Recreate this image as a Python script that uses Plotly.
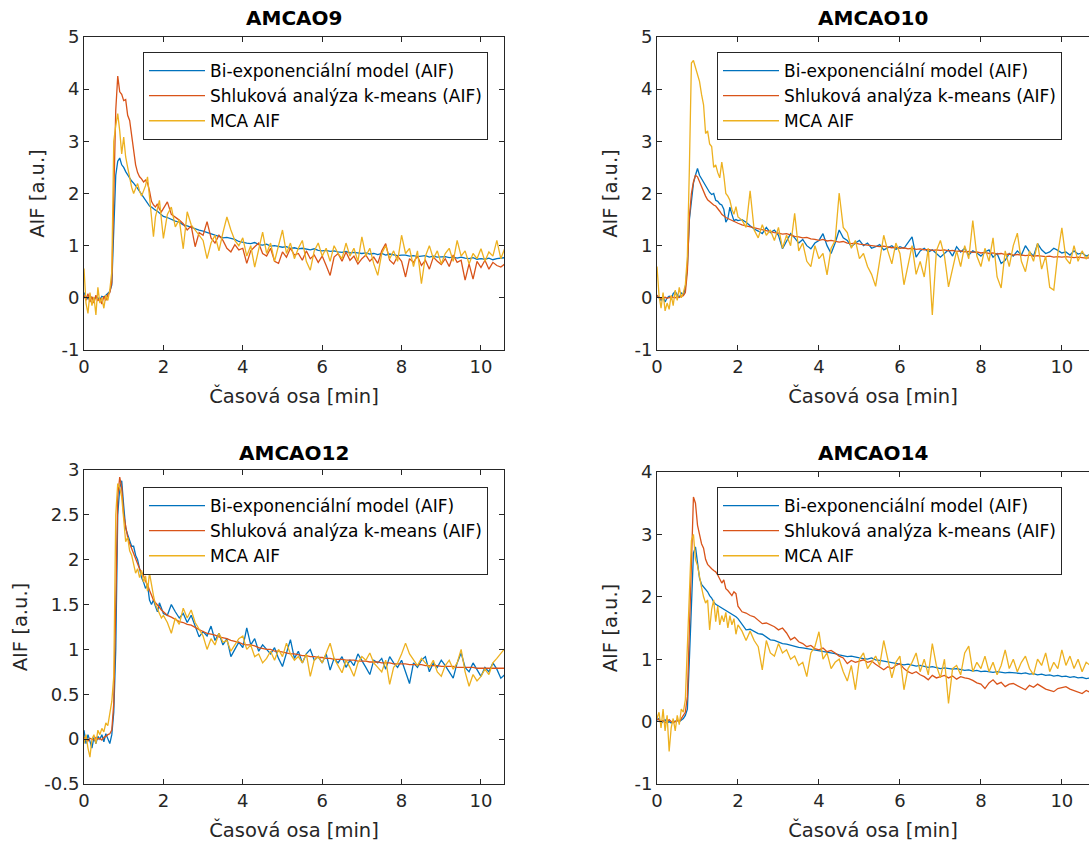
import plotly.graph_objects as go

# ---- sampling times [min]: dense through the bolus, 0.1 min afterwards ----
T_RISE = [0.00, 0.05, 0.10, 0.15, 0.20, 0.25, 0.30, 0.35, 0.40, 0.45,
          0.50, 0.55, 0.60, 0.65, 0.70, 0.75, 0.80, 0.85, 0.90, 0.95,
          1.00, 1.05, 1.10, 1.15, 1.20, 1.25, 1.30, 1.35, 1.40, 1.45,
          1.50, 1.55, 1.60, 1.65, 1.70, 1.75, 1.80, 1.85, 1.90, 1.95,
          2.00]
T_TAIL = [2.1, 2.2, 2.3, 2.4, 2.5, 2.6, 2.7, 2.8, 2.9, 3.0,
          3.1, 3.2, 3.3, 3.4, 3.5, 3.6, 3.7, 3.8, 3.9, 4.0,
          4.1, 4.2, 4.3, 4.4, 4.5, 4.6, 4.7, 4.8, 4.9, 5.0,
          5.1, 5.2, 5.3, 5.4, 5.5, 5.6, 5.7, 5.8, 5.9, 6.0,
          6.1, 6.2, 6.3, 6.4, 6.5, 6.6, 6.7, 6.8, 6.9, 7.0,
          7.1, 7.2, 7.3, 7.4, 7.5, 7.6, 7.7, 7.8, 7.9, 8.0,
          8.1, 8.2, 8.3, 8.4, 8.5, 8.6, 8.7, 8.8, 8.9, 9.0,
          9.1, 9.2, 9.3, 9.4, 9.5, 9.6, 9.7, 9.8, 9.9, 10.0,
          10.1, 10.2, 10.3, 10.4, 10.5, 10.6, 10.7]

SERIES_NAMES = ["Bi-exponenciální model (AIF)",
                "Shluková analýza k-means (AIF)",
                "MCA AIF"]
PANEL_TITLES = ["AMCAO9", "AMCAO10", "AMCAO12", "AMCAO14"]

# ---- AMCAO9 ----
AMCAO9_BIEXP = [
    0.10, 0.02, -0.02, 0.03, 0.00, -0.03, 0.02, 0.00, -0.04, 0.03,
    0.01, 0.05, 0.08, 0.12, 0.25, 1.30, 2.35, 2.62, 2.68, 2.55,
    2.50, 2.42, 2.36, 2.28, 2.24, 2.20, 2.16, 2.10, 2.04, 1.98,
    1.92, 1.86, 1.80, 1.76, 1.74, 1.70, 1.68, 1.66, 1.62, 1.58,
    1.56,
    1.54, 1.50, 1.47, 1.45, 1.40, 1.38, 1.35, 1.33, 1.30, 1.28,
    1.25, 1.22, 1.20, 1.18, 1.15, 1.16, 1.14, 1.12, 1.08, 1.06,
    1.05, 1.04, 1.06, 1.02, 1.01, 1.03, 0.99, 1.00, 0.98, 0.97,
    0.98, 0.95, 0.96, 0.94, 0.95, 0.93, 0.92, 0.94, 0.91, 0.90,
    0.91, 0.89, 0.90, 0.88, 0.87, 0.89, 0.86, 0.87, 0.86, 0.85,
    0.86, 0.84, 0.85, 0.83, 0.85, 0.82, 0.84, 0.83, 0.81, 0.82,
    0.82, 0.80, 0.81, 0.79, 0.80, 0.81, 0.78, 0.80, 0.78, 0.78,
    0.79, 0.77, 0.78, 0.76, 0.78, 0.76, 0.75, 0.77, 0.74, 0.75,
    0.74, 0.76, 0.73, 0.75, 0.76, 0.77, 0.75]
AMCAO9_KMEANS = [
    0.05, -0.05, 0.08, -0.08, 0.02, -0.10, 0.05, -0.06, 0.00, -0.12,
    0.03, -0.05, 0.06, 0.10, 0.30, 2.20, 3.60, 4.25, 3.95, 3.90,
    3.78, 3.80, 3.50, 3.40, 3.10, 2.88, 2.55, 2.40, 2.32, 2.28,
    2.22, 2.26, 2.20, 2.05, 1.85, 1.78, 1.74, 1.80, 1.70, 1.65,
    1.72,
    1.84, 1.60, 1.55, 1.49, 1.42, 1.30, 1.38, 0.98, 1.25, 1.20,
    1.46, 1.15, 1.05, 1.20, 1.10, 0.95, 0.88, 1.02, 0.92, 0.95,
    0.66, 0.90, 0.98, 1.05, 0.85, 0.80, 0.95, 0.70, 0.66, 0.88,
    0.78, 0.95, 0.82, 0.85, 0.72, 0.90, 0.75, 0.82, 0.68, 0.80,
    0.62, 0.43, 0.78, 0.85, 0.70, 0.88, 0.72, 0.80, 0.65, 0.75,
    0.82, 0.70, 0.78, 0.66, 0.90, 1.04, 0.72, 0.65, 0.80, 0.70,
    0.40, 0.75, 0.68, 0.80, 0.62, 0.72, 0.55, 0.78, 0.70, 0.64,
    0.75, 0.60, 0.82, 0.68, 0.72, 0.34, 0.65, 0.36, 0.70, 0.58,
    0.72, 0.55, 0.68, 0.62, 0.59, 0.65, 0.60]
AMCAO9_MCA = [
    0.56, -0.10, -0.30, 0.10, -0.15, 0.02, -0.33, 0.20, -0.10, 0.00,
    -0.20, 0.05, -0.05, 0.15, 0.50, 3.00, 3.30, 3.53, 3.20, 2.76,
    3.08, 2.70, 2.50, 2.30, 2.12, 2.00, 2.08, 2.19, 2.05, 1.95,
    2.05, 2.15, 2.32, 1.90, 1.45, 1.17, 1.55, 1.70, 1.87, 1.50,
    1.14,
    1.60, 1.74, 1.36, 1.50, 0.94, 1.65, 1.40, 1.30, 1.20, 1.10,
    0.75, 1.05, 1.20, 0.90, 1.25, 1.55, 1.30, 1.10, 1.00, 1.15,
    0.80, 1.00, 0.59, 0.95, 1.26, 0.85, 1.05, 0.70, 1.00, 1.30,
    0.85, 1.05, 0.75, 0.95, 1.10, 0.70, 0.53, 0.90, 1.05, 0.80,
    0.95, 0.70, 1.00, 0.85, 0.75, 1.05, 0.80, 0.95, 0.70, 1.17,
    0.80, 0.95, 0.65, 0.43, 0.85, 1.00, 0.75, 0.90, 0.70, 1.20,
    0.85, 0.95, 0.60, 0.90, 0.27, 0.80, 1.00, 0.75, 0.90, 0.65,
    0.85, 0.95, 0.70, 1.10, 0.80, 0.90, 0.65, 0.85, 0.75, 0.94,
    0.70, 0.88, 0.80, 1.10, 0.75, 0.95, 0.85]

# ---- AMCAO10 ----
AMCAO10_BIEXP = [
    0.05, 0.00, -0.05, 0.02, -0.08, 0.00, 0.03, -0.03, 0.08, 0.12,
    0.05, 0.00, 0.10, 0.05, 0.20, 0.60, 1.50, 1.85, 2.20, 2.35,
    2.48, 2.35, 2.28, 2.20, 2.13, 2.08, 2.02, 1.98, 2.00, 1.87,
    1.85, 1.80, 1.78, 1.70, 1.45, 1.52, 1.74, 1.60, 1.48, 1.50,
    1.48,
    1.50, 1.45, 1.38, 1.32, 1.28, 1.23, 1.35, 1.25, 1.30, 1.20,
    0.94, 1.10, 1.23, 1.15, 1.05, 1.12, 1.00, 0.94, 1.05, 1.10,
    1.23, 1.00, 0.85, 1.05, 1.30, 1.15, 1.10, 0.98, 1.05, 1.10,
    1.00, 1.05, 0.95, 0.98, 1.02, 0.92, 0.96, 1.00, 0.93, 0.98,
    0.95, 1.05, 1.17, 0.78, 0.90, 0.95, 0.88, 0.92, 0.85, 0.78,
    0.85, 0.92, 0.80, 0.98, 0.88, 0.95, 0.82, 0.90, 0.86, 0.80,
    0.88, 0.92, 0.78, 0.85, 0.66, 0.72, 0.85, 0.80, 0.90, 0.82,
    1.00, 0.88, 0.80, 1.04, 0.92, 0.85, 0.88, 0.95, 0.91, 0.86,
    0.88, 0.82, 0.90, 0.84, 0.86, 0.80, 0.83]
AMCAO10_KMEANS = [
    0.05, 0.00, -0.02, 0.00, 0.01, -0.01, 0.00, 0.02, 0.01, 0.00,
    0.02, 0.01, 0.03, 0.04, 0.10, 0.50, 1.55, 2.00, 2.22, 2.35,
    2.32, 2.22, 2.12, 2.02, 1.95, 1.88, 1.84, 1.80, 1.78, 1.76,
    1.72, 1.66, 1.60, 1.56, 1.54, 1.52, 1.50, 1.48, 1.46, 1.45,
    1.43,
    1.40, 1.38, 1.37, 1.34, 1.33, 1.30, 1.29, 1.27, 1.25, 1.24,
    1.22, 1.23, 1.20, 1.18, 1.17, 1.15, 1.16, 1.13, 1.12, 1.10,
    1.12, 1.09, 1.10, 1.08, 1.07, 1.08, 1.05, 1.04, 1.05, 1.03,
    1.02, 1.01, 1.00, 0.99, 0.98, 0.99, 0.97, 0.96, 0.97, 0.95,
    0.96, 0.94, 0.95, 0.93, 0.94, 0.92, 0.93, 0.91, 0.92, 0.91,
    0.92, 0.90, 0.91, 0.89, 0.90, 0.88, 0.89, 0.87, 0.88, 0.86,
    0.87, 0.85, 0.86, 0.84, 0.85, 0.83, 0.84, 0.82, 0.83, 0.82,
    0.81, 0.82, 0.80, 0.81, 0.80, 0.79, 0.80, 0.78, 0.79, 0.78,
    0.79, 0.78, 0.77, 0.78, 0.77, 0.76, 0.77]
AMCAO10_MCA = [
    0.60, 0.05, -0.20, 0.10, -0.25, -0.10, -0.22, 0.05, -0.15, 0.15,
    -0.05, 0.20, 0.00, 0.10, 0.25, 0.80, 2.50, 4.50, 4.55, 4.40,
    4.30, 4.15, 3.90, 3.70, 3.15, 3.20, 2.95, 2.90, 2.50, 2.55,
    2.40, 2.30, 2.60, 2.35, 2.00, 1.95, 1.87, 1.70, 1.60, 1.75,
    1.55,
    1.49, 1.35, 2.05, 1.30, 1.15, 1.40, 1.20, 1.30, 1.10, 1.35,
    0.95, 1.20, 1.00, 1.62, 0.90, 1.05, 0.70, 0.60, 1.00, 0.75,
    0.85, 0.44, 0.95, 1.10, 2.01, 1.35, 1.25, 0.95, 1.10, 0.75,
    0.85, 0.60, 0.45, 0.22, 0.75, 1.20, 0.90, 0.65, 1.05, 0.85,
    0.25, 0.60, 1.00, 0.45, 0.70, 0.40, 0.95, -0.33, 0.90, 1.10,
    0.80, 0.21, 0.55, 0.90, 0.60, 1.00, 0.75, 1.48, 0.80, 0.60,
    0.95, 0.70, 1.15, 0.40, 0.19, 0.90, 0.60, 1.00, 1.24, 0.70,
    0.50, 0.90, 0.70, 1.05, 0.55, 0.80, 0.20, 0.15, 0.85, 1.34,
    0.75, 0.65, 1.00, 0.70, 0.90, 0.75, 0.85]

# ---- AMCAO12 ----
AMCAO12_BIEXP = [
    0.10, -0.05, 0.05, -0.02, -0.10, 0.02, -0.05, 0.03, 0.00, 0.05,
    -0.03, 0.06, 0.00, -0.05, 0.05, 0.30, 1.00, 2.50, 2.80, 2.88,
    2.60, 2.35, 2.28, 2.20, 2.15, 2.15, 2.05, 2.00, 1.88, 1.80,
    1.75, 1.68, 1.72, 1.55, 1.50, 1.55, 1.48, 1.42, 1.52, 1.45,
    1.40,
    1.38, 1.50, 1.42, 1.35, 1.40, 1.30, 1.38, 1.25, 1.14, 1.20,
    1.15, 1.26, 1.10, 1.18, 1.05, 1.12, 0.92, 1.00, 1.08, 1.02,
    1.24, 1.05, 1.12, 0.98, 1.05, 1.00, 0.95, 1.02, 0.90, 0.81,
    0.95, 1.11, 0.90, 0.98, 0.85, 0.95, 1.00, 0.88, 0.92, 0.85,
    0.95, 0.77, 0.90, 0.85, 0.92, 0.80, 0.88, 0.82, 0.95, 0.88,
    0.80, 0.72, 0.88, 0.85, 0.90, 0.78, 0.92, 0.85, 0.80, 0.88,
    0.75, 0.62, 0.85, 0.80, 0.88, 0.92, 0.75, 0.85, 0.80, 0.88,
    0.82, 0.75, 0.68, 0.85, 0.96, 0.80, 0.75, 0.85, 0.78, 0.70,
    0.80, 0.75, 0.85, 0.78, 0.68, 0.72, 0.70]
AMCAO12_KMEANS = [
    0.02, 0.00, -0.02, 0.01, 0.00, -0.01, 0.02, 0.00, 0.01, -0.01,
    0.02, 0.03, 0.05, 0.06, 0.10, 0.40, 1.50, 2.70, 2.92, 2.80,
    2.50, 2.35, 2.25, 2.18, 2.12, 2.06, 2.00, 1.95, 1.90, 1.86,
    1.82, 1.76, 1.72, 1.66, 1.60, 1.55, 1.52, 1.50, 1.47, 1.44,
    1.42,
    1.38, 1.36, 1.33, 1.31, 1.30, 1.28, 1.27, 1.24, 1.22, 1.20,
    1.18, 1.17, 1.16, 1.14, 1.13, 1.12, 1.10, 1.09, 1.08, 1.06,
    1.05, 1.05, 1.04, 1.02, 1.01, 1.00, 1.00, 0.98, 0.98, 0.97,
    0.96, 0.95, 0.95, 0.94, 0.93, 0.93, 0.92, 0.92, 0.91, 0.91,
    0.90, 0.90, 0.89, 0.89, 0.89, 0.88, 0.88, 0.88, 0.87, 0.87,
    0.87, 0.86, 0.86, 0.86, 0.85, 0.85, 0.85, 0.84, 0.84, 0.84,
    0.84, 0.83, 0.83, 0.83, 0.83, 0.82, 0.82, 0.82, 0.82, 0.81,
    0.81, 0.81, 0.81, 0.80, 0.80, 0.80, 0.80, 0.80, 0.79, 0.79,
    0.79, 0.79, 0.79, 0.79, 0.79, 0.79, 0.79]
AMCAO12_MCA = [
    -0.05, 0.05, -0.10, -0.20, 0.00, 0.05, -0.05, 0.10, 0.05, 0.12,
    0.08, 0.18, 0.15, 0.30, 0.42, 0.70, 2.50, 2.85, 2.80, 2.70,
    2.40, 2.20, 2.25, 2.10, 2.05, 1.95, 1.85, 1.90, 1.80, 1.88,
    1.75, 1.82, 1.65, 1.85, 1.70, 1.60, 1.50, 1.45, 1.40, 1.35,
    1.38,
    1.30, 1.18, 1.35, 1.28, 1.46, 1.35, 1.44, 1.30, 1.22, 1.15,
    1.00, 1.12, 1.05, 1.18, 1.08, 1.10, 0.98, 1.05, 1.12, 1.15,
    1.00, 1.05, 0.92, 0.95, 0.85, 0.90, 0.98, 0.88, 1.00, 0.92,
    1.07, 0.95, 0.88, 0.92, 0.85, 0.95, 0.70, 0.88, 0.92, 0.85,
    0.95, 1.07, 0.90, 0.82, 0.74, 0.88, 0.80, 0.70, 0.85, 0.92,
    0.88, 0.96, 0.85, 0.80, 0.75, 0.88, 0.61, 0.80, 0.85, 0.95,
    1.07, 0.95, 0.88, 0.82, 0.90, 0.85, 0.80, 0.88, 0.75, 0.70,
    0.82, 0.88, 0.78, 0.85, 1.00, 0.75, 0.59, 0.72, 0.65, 0.70,
    0.78, 0.72, 0.85, 0.90, 0.95, 1.01, 0.90]

# ---- AMCAO14 ----
AMCAO14_BIEXP = [
    0.02, 0.05, -0.03, 0.00, 0.03, -0.02, 0.00, -0.02, 0.01, 0.00,
    0.02, 0.00, 0.03, 0.05, 0.10, 0.20, 1.00, 1.80, 2.70, 2.80,
    2.55, 2.30, 2.20, 2.16, 2.12, 2.08, 2.02, 1.98, 1.92, 1.88,
    1.86, 1.84, 1.82, 1.80, 1.79, 1.76, 1.74, 1.72, 1.70, 1.68,
    1.65,
    1.55, 1.47, 1.48, 1.45, 1.41, 1.40, 1.36, 1.31, 1.30, 1.27,
    1.25, 1.24, 1.22, 1.20, 1.19, 1.18, 1.17, 1.16, 1.15, 1.14,
    1.12, 1.11, 1.10, 1.09, 1.07, 1.06, 1.04, 1.05, 1.03, 1.02,
    1.01, 1.00, 1.02, 0.99, 0.98, 0.97, 0.96, 0.95, 0.93, 0.92,
    0.91, 0.92, 0.90, 0.89, 0.90, 0.88, 0.87, 0.88, 0.86, 0.85,
    0.86, 0.85, 0.84, 0.85, 0.83, 0.82, 0.83, 0.81, 0.82, 0.80,
    0.81, 0.80, 0.79, 0.80, 0.79, 0.78, 0.79, 0.78, 0.77, 0.77,
    0.78, 0.76, 0.77, 0.75, 0.76, 0.74, 0.75, 0.73, 0.74, 0.72,
    0.73, 0.71, 0.72, 0.70, 0.71, 0.69, 0.70]
AMCAO14_KMEANS = [
    0.05, 0.03, 0.00, 0.02, -0.02, 0.00, 0.03, 0.00, -0.02, 0.00,
    0.02, 0.00, 0.05, 0.08, 0.15, 0.40, 1.50, 2.60, 3.60, 3.50,
    3.15, 3.00, 2.85, 2.78, 2.60, 2.52, 2.48, 2.45, 2.42, 2.40,
    2.35, 2.28, 2.22, 2.27, 2.13, 2.10, 2.05, 2.02, 2.08, 2.05,
    1.85,
    1.76, 1.74, 1.70, 1.68, 1.62, 1.57, 1.58, 1.55, 1.52, 1.47,
    1.50, 1.42, 1.31, 1.35, 1.28, 1.25, 1.20, 1.22, 1.17, 1.15,
    1.18, 1.12, 1.14, 1.10, 1.05, 1.02, 0.93, 0.98, 0.95, 0.97,
    0.99, 0.95, 0.97, 0.92, 0.88, 0.83, 0.88, 0.85, 0.90, 0.93,
    0.85, 0.80, 0.77, 0.80, 0.75, 0.72, 0.67, 0.74, 0.70, 0.72,
    0.74, 0.70, 0.73, 0.68, 0.72, 0.70, 0.69, 0.66, 0.62, 0.60,
    0.53, 0.62, 0.67, 0.60, 0.63, 0.56, 0.60, 0.61, 0.58, 0.55,
    0.51, 0.58, 0.55, 0.60, 0.56, 0.52, 0.50, 0.48, 0.53, 0.55,
    0.56, 0.52, 0.50, 0.48, 0.45, 0.50, 0.47]
AMCAO14_MCA = [
    0.05, 0.15, -0.10, 0.20, -0.15, 0.10, -0.48, -0.10, 0.05, -0.15,
    0.10, -0.05, 0.20, 0.15, 0.35, 1.20, 2.00, 2.90, 3.00, 2.60,
    2.50, 2.30, 2.15, 2.00, 1.90, 1.95, 1.47, 1.80, 1.95, 1.60,
    1.85, 1.55, 1.70, 1.60, 1.75, 1.50, 1.70, 1.55, 1.65, 1.40,
    1.55,
    1.45, 1.30, 1.45, 1.30, 1.20, 0.83, 1.30, 1.10, 1.05, 1.25,
    1.10, 1.15, 1.00, 1.05, 0.90, 0.95, 0.72, 1.10, 1.20, 1.44,
    1.00, 1.10, 0.85, 0.95, 1.00, 0.80, 0.65, 0.90, 0.51, 1.00,
    1.10, 0.85, 0.95, 1.05, 0.90, 1.30, 1.00, 0.70, 0.95, 1.05,
    0.51, 0.85, 0.95, 1.10, 0.80, 1.00, 0.75, 1.25, 0.90, 0.70,
    1.00, 0.29, 0.85, 0.90, 0.75, 1.10, 1.21, 0.80, 0.95, 0.85,
    1.05, 0.80, 0.95, 0.75, 0.90, 1.15, 0.85, 1.00, 0.80, 0.95,
    1.05, 0.85, 0.75, 1.00, 0.90, 1.10, 0.80, 0.95, 0.85, 1.15,
    0.90, 1.05, 0.85, 1.00, 0.80, 0.95, 0.90]

Y_TICKS = [
    [-1, 0, 1, 2, 3, 4, 5],
    [-1, 0, 1, 2, 3, 4, 5],
    [-0.5, 0, 0.5, 1, 1.5, 2, 2.5, 3],
    [-1, 0, 1, 2, 3, 4],
]
X_TICKS = [0, 2, 4, 6, 8, 10]

PANEL_DATA = [
    [AMCAO9_BIEXP, AMCAO9_KMEANS, AMCAO9_MCA],
    [AMCAO10_BIEXP, AMCAO10_KMEANS, AMCAO10_MCA],
    [AMCAO12_BIEXP, AMCAO12_KMEANS, AMCAO12_MCA],
    [AMCAO14_BIEXP, AMCAO14_KMEANS, AMCAO14_MCA],
]

# ---- styling ----
W, H = 1089, 843
COLORS = ["#0072BD", "#D95319", "#EDB120"]
AX_COLOR = "#262626"
FONT = "DejaVu Sans"

# panel boxes in pixels: (left, right, top, bottom)
BOXES = [(84, 504, 37, 350), (657, 1089, 37, 350),
         (84, 504, 470, 784), (657, 1089, 472, 784)]
X_MAX = [10.58, 10.67, 10.58, 10.67]
LEGEND_POS = [(143, 52), (717, 52), (143, 487), (717, 487)]
TITLE_Y = [18, 18, 453, 453]

t_all = T_RISE + T_TAIL
fig = go.Figure()

for p in range(4):
    sfx = "" if p == 0 else str(p + 1)
    leg = "legend" + sfx
    for s in range(3):
        ys = PANEL_DATA[p][s]
        assert len(ys) == len(t_all), (p, s, len(ys))
        fig.add_trace(go.Scatter(
            x=t_all, y=ys, mode="lines", name=SERIES_NAMES[s],
            line=dict(color=COLORS[s], width=1.3),
            xaxis="x" + sfx, yaxis="y" + sfx, legend=leg,
            hoverinfo="skip",
        ))

    l, r, t, b = BOXES[p]
    right_clipped = r >= W
    yt = Y_TICKS[p]
    fig.layout["xaxis" + sfx] = dict(
        domain=[l / W, r / W], range=[0, X_MAX[p]], anchor="y" + sfx,
        tickvals=X_TICKS, ticks="inside", ticklen=5, tickcolor=AX_COLOR,
        showline=True, linecolor=AX_COLOR, linewidth=1, mirror="ticks",
        showgrid=False, zeroline=False, automargin=False,
        tickfont=dict(family=FONT, size=18, color=AX_COLOR),
        title=dict(text="Časová osa [min]", standoff=13,
                   font=dict(family=FONT, size=19.5, color=AX_COLOR)),
    )
    fig.layout["yaxis" + sfx] = dict(
        domain=[1 - b / H, 1 - t / H], range=[yt[0], yt[-1]],
        anchor="x" + sfx,
        tickvals=yt, ticktext=[f"{v:g}" for v in yt],
        ticks="inside", ticklen=5, tickcolor=AX_COLOR,
        showline=True, linecolor=AX_COLOR, linewidth=1,
        mirror=False if right_clipped else "ticks",
        showgrid=False, zeroline=False, automargin=False,
        tickfont=dict(family=FONT, size=18, color=AX_COLOR),
        title=dict(text="AIF [a.u.]", standoff=11,
                   font=dict(family=FONT, size=19.5, color=AX_COLOR)),
    )
    lx, ly = LEGEND_POS[p]
    fig.layout[leg] = dict(
        x=lx / W, y=1 - ly / H, xanchor="left", yanchor="top",
        xref="paper", yref="paper",
        bgcolor="white", bordercolor=AX_COLOR, borderwidth=1,
        font=dict(family=FONT, size=17, color="black"),
        tracegroupgap=0, itemwidth=56,
    )
    fig.add_annotation(
        text=f"<b>{PANEL_TITLES[p]}</b>", xref="paper", yref="paper",
        x=((l + r) / 2) / W, y=1 - TITLE_Y[p] / H,
        xanchor="center", yanchor="middle", showarrow=False,
        font=dict(family=FONT, size=20, color="black"),
    )

fig.update_layout(
    width=W, height=H,
    margin=dict(l=0, r=0, t=0, b=0, autoexpand=False),
    paper_bgcolor="white", plot_bgcolor="white",
    showlegend=True,
)

fig.write_html("out.html", config={"displayModeBar": False})
